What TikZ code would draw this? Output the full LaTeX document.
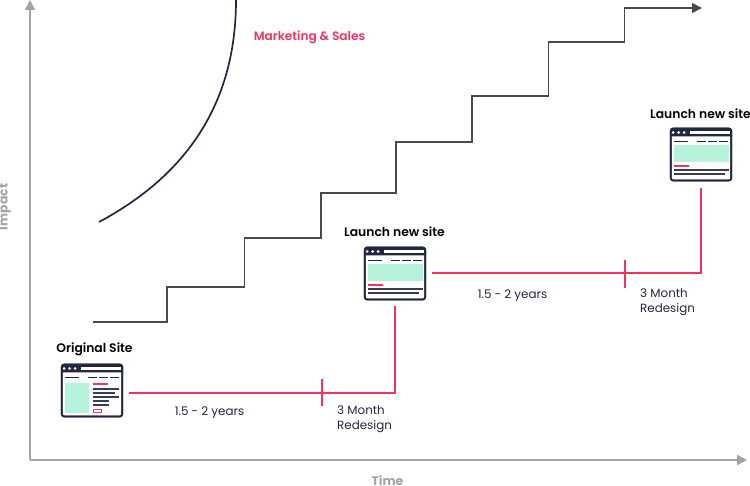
\documentclass[tikz,border=0pt]{standalone}
\usepackage{fontspec}
\setmainfont{Poppins}
\usetikzlibrary{arrows.meta}
\definecolor{navy}{HTML}{23263F}
\definecolor{pinkred}{HTML}{F5325F}
\definecolor{mint}{HTML}{B7F2DA}
\definecolor{axisgray}{HTML}{A3A3A3}
\definecolor{stairgray}{HTML}{4A4A4A}
\tikzset{
  x=1pt,y=-1pt,
  axisline/.style={draw=axisgray,line width=1.6pt,-{Triangle[length=10pt,width=10pt]}},
  stairline/.style={draw=stairgray,line width=1.6pt},
  curveline/.style={draw=navy,line width=1.7pt},
  timeline/.style={draw=pinkred,line width=1.5pt},
  iconbox/.style={draw=navy,line width=1.7pt,rounded corners=2.5pt,fill=white,minimum width=60.5pt,minimum height=52pt,inner sep=0pt,outer sep=0pt},
  axislabel/.style={text=axisgray,inner sep=0pt,font=\fontsize{12.4}{14}\selectfont\bfseries},
  title/.style={text=black,font=\fontsize{12.35}{14}\selectfont\fontspec{Poppins SemiBold}},
  note/.style={text=navy,font=\fontsize{11.9}{15}\selectfont,align=left},
  dk/.style={draw=navy,line width=1.5pt},
  dkb/.style={draw=navy!90!white,line width=1.6pt},
  pk/.style={draw=pinkred,line width=1.7pt},
}
% window chrome: origin is the icon's top left corner
\newcommand{\chrome}{%
  \fill[navy] (0,8) [rounded corners=2pt] -- (0,0) -- (62,0) [sharp corners] -- (62,8) -- cycle;
  \fill[white] (3.2,4) circle (1.5) (8.7,4) circle (1.5) (14.2,4) circle (1.5);
  \fill[white] (19.7,2.2) rectangle (59.7,5.5);
  \draw[dk] (4,12.8) -- (18.3,12.8) (27.3,12.8) -- (36.3,12.8) (38.3,12.8) -- (47,12.8) (49.3,12.8) -- (58.3,12.8);
}
\newcommand{\sidebody}{%
  \fill[mint] (4,18.2) rectangle (27.7,48.2);
  \draw[pk] (31.7,19.8) -- (46.7,19.8);
  \draw[dkb] (31.7,24.5) -- (58,24.5) (31.7,28.4) -- (54,28.4) (31.7,32.4) -- (58,32.4) (31.7,36.4) -- (48,36.4) (31.7,40.4) -- (48,40.4);
  \draw[pinkred,line width=1pt] (32,45.2) rectangle (40.7,48.2);
}
\newcommand{\widebody}{%
  \fill[mint] (3.7,16.5) rectangle (59.3,33.2);
  \draw[pk] (4,37.6) -- (19,37.6);
  \draw[dkb] (4,41.6) -- (59.3,41.6) (4,45.6) -- (55,45.6);
}
\begin{document}
\begin{tikzpicture}
\useasboundingbox (0,0) rectangle (750,486);
% axes
\coordinate (origin) at (30,460);
\coordinate (ytip) at (30,0);
\coordinate (xtip) at (747,460);
\draw[axisline] (origin) -- (ytip);
\draw[axisline] (origin) -- (xtip);
\node[axislabel,rotate=90] (impact) at (5,207) {Impact};
\node[axislabel] (time) at (387.5,480.5) {Time};
% curve
\coordinate (curveA) at (99,222);
\coordinate (curveB) at (236,0);
\draw[curveline] (curveA) .. controls (185,176) and (236,105) .. (curveB);
\node[text=pinkred,font=\fontsize{12.15}{14}\selectfont\fontspec{Poppins SemiBold}] (ms) at (309.5,37.5) {Marketing \& Sales};
% stairs
\coordinate (stairA) at (93,322);
\coordinate (stairB) at (702,8);
\draw[stairline,-{Triangle[length=10pt,width=10pt]}] (stairA) -- (167,322) -- (167,287) -- (244.5,287) -- (244.5,238) -- (321,238) -- (321,193) -- (396,193) -- (396,142) -- (472,142) -- (472,96) -- (548.5,96) -- (548.5,42) -- (624.5,42) -- (624.5,8) -- (stairB);
% icons
\node[iconbox] (iconA) at (92,390.5) {};
\begin{scope}[shift={(61,364.5)}]\chrome\sidebody\end{scope}
\node[iconbox] (iconB) at (395,273.5) {};
\begin{scope}[shift={(364,247.5)}]\chrome\widebody\end{scope}
\node[iconbox] (iconC) at (701,154.5) {};
\begin{scope}[shift={(670,128.5)}]\chrome\widebody\end{scope}
\draw[navy,line width=1.7pt,rounded corners=2.5pt] (iconA.north west) rectangle (iconA.south east);
\draw[navy,line width=1.7pt,rounded corners=2.5pt] (iconB.north west) rectangle (iconB.south east);
\draw[navy,line width=1.7pt,rounded corners=2.5pt] (iconC.north west) rectangle (iconC.south east);
% titles
\node[title] (tA) at (94.5,349) {Original Site};
\node[title] (tB) at (394.5,231.7) {Launch new site};
\node[title] (tC) at (700.5,113.7) {Launch new site};
% timelines
\draw[timeline] ([shift={(7,2.5)}]iconA.east) -| ([shift={(0,7)}]iconB.south);
\draw[timeline] ([shift={(7,-0.5)}]iconB.east) -| ([shift={(0,8)}]iconC.south);
\coordinate (tickAa) at (322,379);
\coordinate (tickAb) at (322,406);
\coordinate (tickBa) at (625,260);
\coordinate (tickBb) at (625,288);
\draw[timeline] (tickAa) -- (tickAb);
\draw[timeline] (tickBa) -- (tickBb);
\node[note] (yA) at (209.5,412.5) {1.5 - 2 years};
\node[note] (yB) at (512.5,295.5) {1.5 - 2 years};
\node[note,anchor=west,inner sep=0pt] (rA) at (337,419) {3 Month\\Redesign};
\node[note,anchor=west,inner sep=0pt] (rB) at (640,302) {3 Month\\Redesign};
\end{tikzpicture}
\end{document}
